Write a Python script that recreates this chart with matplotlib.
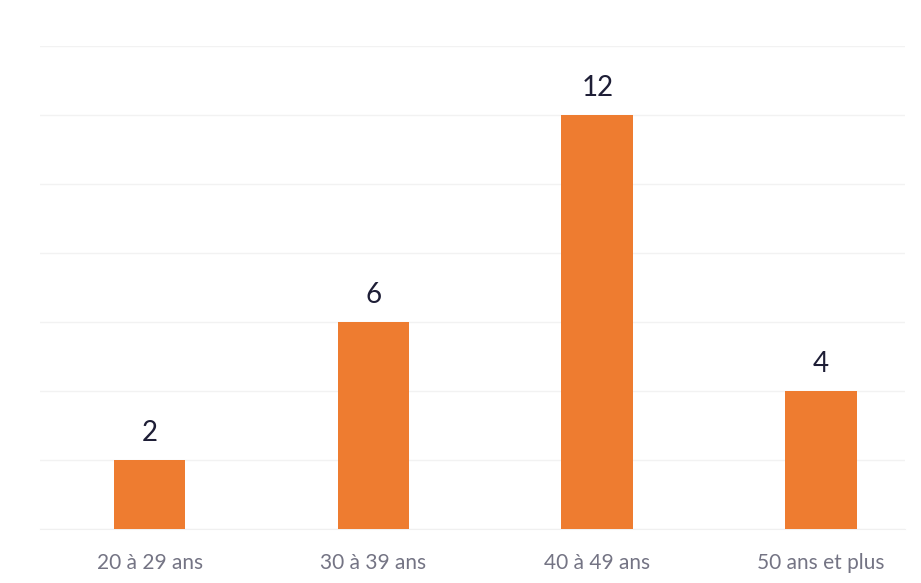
import matplotlib
matplotlib.use("Agg")
import matplotlib.pyplot as plt

categories = ["20 à 29 ans", "30 à 39 ans", "40 à 49 ans", "50 ans et plus"]
values = [2, 6, 12, 4]
yticks = [0, 2, 4, 6, 8, 10, 12, 14]

W, H = 921, 583
fig = plt.figure(figsize=(W / 100, H / 100), dpi=100)
left_px, right_px, top_px, bottom_px = 40, 905, 46, 529
ax = fig.add_axes([left_px / W, 1 - bottom_px / H, (right_px - left_px) / W, (bottom_px - top_px) / H])

x = list(range(len(categories)))
ax.bar(x, values, width=0.32, color="#EE7C30", zorder=3)

for xi, v in zip(x, values):
    ax.annotate(str(v), (xi, v), xytext=(0, 10), textcoords="offset points",
                ha="center", va="bottom", fontsize=20, color="#1E1E36", family="Lato")

ax.set_ylim(0, 14)
ax.set_xlim(-0.49, 3.375)
ax.set_yticks(yticks)
ax.set_yticklabels([])
ax.tick_params(axis="y", length=0)
ax.tick_params(axis="x", length=0, pad=17)
ax.set_xticks(x)
ax.set_xticklabels(categories, fontsize=15, color="#747484", family="Lato")
ax.grid(axis="y", color="#F2F2F2", linewidth=1.0, zorder=0)
for s in ["top", "right", "left"]:
    ax.spines[s].set_visible(False)
ax.spines["bottom"].set_color("#F0F0F0")

fig.savefig("out.png", dpi=100)
